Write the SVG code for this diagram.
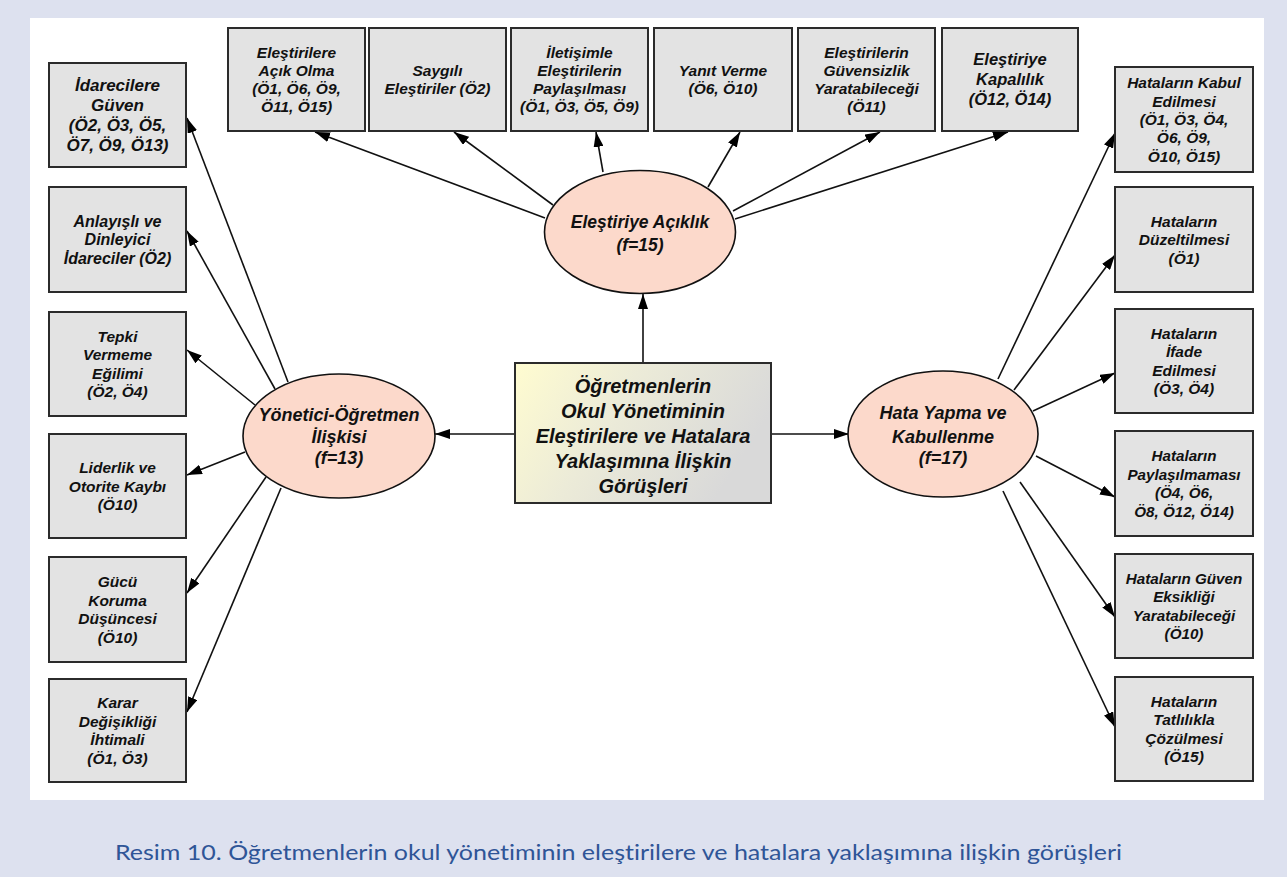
<svg xmlns="http://www.w3.org/2000/svg" width="1287" height="877" viewBox="0 0 1287 877">
<defs>
<style>
.box{fill:#e3e3e3;stroke:#2b2b2b;stroke-width:2}
.ell{fill:#fcd9cb;stroke:#111;stroke-width:1.6}
.t{font-family:"Liberation Sans",Arial,sans-serif;font-weight:bold;font-style:italic;fill:#111;text-anchor:middle}
.conn line{stroke:#111;stroke-width:1.6;marker-end:url(#ah)}
.cap{font-family:Lato,"Open Sans",sans-serif;font-size:21.5px;fill:#2f5597;font-variant-ligatures:none}
</style>
<marker id="ah" markerUnits="userSpaceOnUse" markerWidth="16" markerHeight="10" refX="15" refY="5" orient="auto">
<path d="M0,0 L15,5 L0,10 z" fill="#000"/>
</marker>
<linearGradient id="cg" x1="0" y1="0" x2="1" y2="0.35">
<stop offset="0" stop-color="#fffcd0"/>
<stop offset="0.45" stop-color="#ecebd8"/>
<stop offset="1" stop-color="#d9d9d9"/>
</linearGradient>
</defs>
<rect x="0" y="0" width="1287" height="877" fill="#dde1ef"/>
<rect x="30" y="18" width="1234" height="782" fill="#ffffff"/>

<g class="conn" id="connectors">
<line x1="643" y1="363" x2="643" y2="294"/>
<line x1="515" y1="434" x2="435" y2="434"/>
<line x1="771" y1="434" x2="849" y2="434"/>
<line x1="545" y1="218" x2="315" y2="132"/>
<line x1="553" y1="205" x2="454" y2="132"/>
<line x1="603" y1="172" x2="596" y2="132"/>
<line x1="708" y1="187" x2="740" y2="132"/>
<line x1="733" y1="211" x2="880" y2="132"/>
<line x1="735" y1="219" x2="1008" y2="132"/>
<line x1="288" y1="382" x2="187" y2="118"/>
<line x1="275" y1="389" x2="187" y2="231"/>
<line x1="255" y1="405" x2="187" y2="350"/>
<line x1="245" y1="452" x2="187" y2="475"/>
<line x1="266" y1="477" x2="187" y2="593"/>
<line x1="281" y1="488" x2="187" y2="712"/>
<line x1="998" y1="379" x2="1115" y2="133"/>
<line x1="1014" y1="390" x2="1115" y2="255"/>
<line x1="1033" y1="411" x2="1115" y2="373"/>
<line x1="1036" y1="456" x2="1115" y2="497"/>
<line x1="1020" y1="482" x2="1115" y2="617"/>
<line x1="1003" y1="491" x2="1115" y2="727"/>
</g>

<g id="center">
<rect x="515" y="363" width="256" height="140" fill="url(#cg)" stroke="#2b2b2b" stroke-width="2"/>
<text class="t" font-size="20"><tspan x="643" y="393">Öğretmenlerin</tspan><tspan x="643" y="418">Okul Yönetiminin</tspan><tspan x="643" y="443">Eleştirilere ve Hatalara</tspan><tspan x="643" y="468">Yaklaşımına İlişkin</tspan><tspan x="643" y="493">Görüşleri</tspan></text>
</g>

<g id="e-top">
<ellipse class="ell" cx="640" cy="232" rx="95.5" ry="61.5"/>
<text class="t" font-size="17.5"><tspan x="640" y="228">Eleştiriye Açıklık</tspan><tspan x="640" y="251">(f=15)</tspan></text>
</g>
<g id="e-left">
<ellipse class="ell" cx="339" cy="436" rx="96" ry="62"/>
<text class="t" font-size="18"><tspan x="339" y="421">Yönetici-Öğretmen</tspan><tspan x="339" y="443">İlişkisi</tspan><tspan x="339" y="464">(f=13)</tspan></text>
</g>
<g id="e-right">
<ellipse class="ell" cx="943" cy="434" rx="95" ry="63"/>
<text class="t" font-size="18"><tspan x="943" y="419">Hata Yapma ve</tspan><tspan x="943" y="443">Kabullenme</tspan><tspan x="943" y="464">(f=17)</tspan></text>
</g>

<g id="b1">
<rect class="box" x="228" y="28" width="137" height="103"/>
<text class="t" font-size="15.5"><tspan x="296.5" y="58">Eleştirilere</tspan><tspan x="296.5" y="76">Açık Olma</tspan><tspan x="296.5" y="94">(Ö1, Ö6, Ö9,</tspan><tspan x="296.5" y="112">Ö11, Ö15)</tspan></text>
</g>
<g id="b2">
<rect class="box" x="369" y="28" width="137" height="103"/>
<text class="t" font-size="15.5"><tspan x="437.5" y="76">Saygılı</tspan><tspan x="437.5" y="94">Eleştiriler (Ö2)</tspan></text>
</g>
<g id="b3">
<rect class="box" x="511" y="28" width="137" height="103"/>
<text class="t" font-size="15.5"><tspan x="579.5" y="58">İletişimle</tspan><tspan x="579.5" y="76">Eleştirilerin</tspan><tspan x="579.5" y="94">Paylaşılması</tspan><tspan x="579.5" y="112">(Ö1, Ö3, Ö5, Ö9)</tspan></text>
</g>
<g id="b4">
<rect class="box" x="654" y="28" width="138" height="103"/>
<text class="t" font-size="15.5"><tspan x="723" y="76">Yanıt Verme</tspan><tspan x="723" y="94">(Ö6, Ö10)</tspan></text>
</g>
<g id="b5">
<rect class="box" x="798" y="28" width="137" height="103"/>
<text class="t" font-size="15.5"><tspan x="866.5" y="58">Eleştirilerin</tspan><tspan x="866.5" y="76">Güvensizlik</tspan><tspan x="866.5" y="94">Yaratabileceği</tspan><tspan x="866.5" y="112">(Ö11)</tspan></text>
</g>
<g id="b6">
<rect class="box" x="942" y="28" width="136" height="103"/>
<text class="t" font-size="16.5"><tspan x="1010" y="65">Eleştiriye</tspan><tspan x="1010" y="85">Kapalılık</tspan><tspan x="1010" y="105">(Ö12, Ö14)</tspan></text>
</g>

<g id="l1">
<rect class="box" x="49" y="63" width="137" height="104"/>
<text class="t" font-size="17"><tspan x="117.5" y="91">İdarecilere</tspan><tspan x="117.5" y="111">Güven</tspan><tspan x="117.5" y="131">(Ö2, Ö3, Ö5,</tspan><tspan x="117.5" y="151">Ö7, Ö9, Ö13)</tspan></text>
</g>
<g id="l2">
<rect class="box" x="49" y="187" width="137" height="105"/>
<text class="t" font-size="16"><tspan x="117.5" y="226.6">Anlayışlı ve</tspan><tspan x="117.5" y="245">Dinleyici</tspan><tspan x="117.5" y="263.6">İdareciler (Ö2)</tspan></text>
</g>
<g id="l3">
<rect class="box" x="49" y="312" width="137" height="104"/>
<text class="t" font-size="15.5"><tspan x="117.5" y="341.7">Tepki</tspan><tspan x="117.5" y="360.2">Vermeme</tspan><tspan x="117.5" y="378.7">Eğilimi</tspan><tspan x="117.5" y="397.2">(Ö2, Ö4)</tspan></text>
</g>
<g id="l4">
<rect class="box" x="49" y="434" width="137" height="104"/>
<text class="t" font-size="15.5"><tspan x="117.5" y="473">Liderlik ve</tspan><tspan x="117.5" y="491.5">Otorite Kaybı</tspan><tspan x="117.5" y="510">(Ö10)</tspan></text>
</g>
<g id="l5">
<rect class="box" x="49" y="557" width="137" height="105"/>
<text class="t" font-size="15.5"><tspan x="117.5" y="587.2">Gücü</tspan><tspan x="117.5" y="605.7">Koruma</tspan><tspan x="117.5" y="624.2">Düşüncesi</tspan><tspan x="117.5" y="642.7">(Ö10)</tspan></text>
</g>
<g id="l6">
<rect class="box" x="49" y="679" width="137" height="103"/>
<text class="t" font-size="15.5"><tspan x="117.5" y="708.2">Karar</tspan><tspan x="117.5" y="726.7">Değişikliği</tspan><tspan x="117.5" y="745.2">İhtimali</tspan><tspan x="117.5" y="763.7">(Ö1, Ö3)</tspan></text>
</g>

<g id="r1">
<rect class="box" x="1115" y="67" width="138" height="105"/>
<text class="t" font-size="15.5"><tspan x="1184" y="88.3">Hataların Kabul</tspan><tspan x="1184" y="106.6">Edilmesi</tspan><tspan x="1184" y="124.9">(Ö1, Ö3, Ö4,</tspan><tspan x="1184" y="143.2">Ö6, Ö9,</tspan><tspan x="1184" y="161.5">Ö10, Ö15)</tspan></text>
</g>
<g id="r2">
<rect class="box" x="1115" y="187" width="138" height="105"/>
<text class="t" font-size="15.5"><tspan x="1184" y="226.5">Hataların</tspan><tspan x="1184" y="245">Düzeltilmesi</tspan><tspan x="1184" y="263.5">(Ö1)</tspan></text>
</g>
<g id="r3">
<rect class="box" x="1115" y="309" width="138" height="104"/>
<text class="t" font-size="15.5"><tspan x="1184" y="338.7">Hataların</tspan><tspan x="1184" y="357.2">İfade</tspan><tspan x="1184" y="375.7">Edilmesi</tspan><tspan x="1184" y="394.2">(Ö3, Ö4)</tspan></text>
</g>
<g id="r4">
<rect class="box" x="1115" y="431" width="138" height="105"/>
<text class="t" font-size="15.2"><tspan x="1184" y="461.2">Hataların</tspan><tspan x="1184" y="479.7">Paylaşılmaması</tspan><tspan x="1184" y="498.2">(Ö4, Ö6,</tspan><tspan x="1184" y="516.7">Ö8, Ö12, Ö14)</tspan></text>
</g>
<g id="r5">
<rect class="box" x="1115" y="554" width="138" height="104"/>
<text class="t" font-size="15.2"><tspan x="1184" y="583.7">Hataların Güven</tspan><tspan x="1184" y="602.2">Eksikliği</tspan><tspan x="1184" y="620.7">Yaratabileceği</tspan><tspan x="1184" y="639.2">(Ö10)</tspan></text>
</g>
<g id="r6">
<rect class="box" x="1115" y="677" width="138" height="104"/>
<text class="t" font-size="15.5"><tspan x="1184" y="706.7">Hataların</tspan><tspan x="1184" y="725.2">Tatlılıkla</tspan><tspan x="1184" y="743.7">Çözülmesi</tspan><tspan x="1184" y="762.2">(Ö15)</tspan></text>
</g>

<text class="cap" x="115" y="860" textLength="1007" lengthAdjust="spacingAndGlyphs">Resim 10. Öğretmenlerin okul yönetiminin eleştirilere ve hatalara yaklaşımına ilişkin görüşleri</text>
</svg>
